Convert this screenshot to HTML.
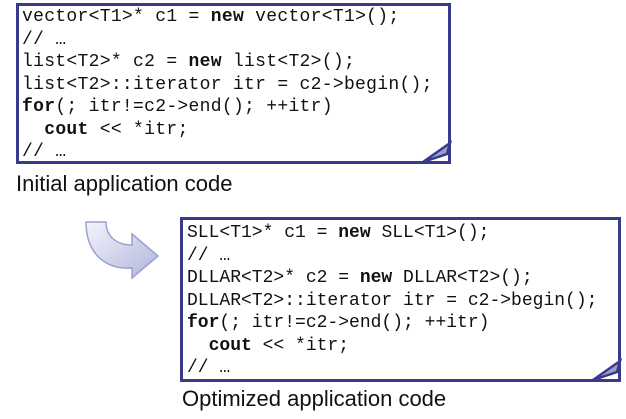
<!DOCTYPE html>
<html><head><style>
body{margin:0;width:626px;height:419px;background:#fff;position:relative;overflow:hidden}
.box{position:absolute;border:3px solid #3a3a8c;background:#fff;box-sizing:border-box}
.code{position:absolute;font-family:"Liberation Mono",monospace;font-size:18px;line-height:22.5px;white-space:pre;color:#111}
.code b{font-weight:bold}
.lbl{position:absolute;font-family:"Liberation Sans",sans-serif;font-size:22px;color:#111;white-space:nowrap}
</style></head><body>
<div class="box" style="left:16px;top:3px;width:435px;height:161px"></div>
<svg style="position:absolute;left:420px;top:136px" width="34" height="32"><polygon points="3,26 30,7 27,18" fill="#9aa0c8" stroke="#3a3a8c" stroke-width="2.5"/></svg>
<div class="code" style="left:22px;top:6px;letter-spacing:0.3px">vector&lt;T1&gt;* c1 = <b>new</b> vector&lt;T1&gt;();
// …
list&lt;T2&gt;* c2 = <b>new</b> list&lt;T2&gt;();
list&lt;T2&gt;::iterator itr = c2-&gt;begin();
<b>for</b>(; itr!=c2-&gt;end(); ++itr)
  <b>cout</b> &lt;&lt; *itr;
// …</div>
<div class="lbl" style="left:16px;top:171px">Initial application code</div>

<svg style="position:absolute;left:80px;top:218px" width="85" height="65">
<defs><linearGradient id="g" x1="0" y1="0" x2="1" y2="1"><stop offset="0" stop-color="#f4f4fb"/><stop offset="1" stop-color="#b0b4dc"/></linearGradient></defs>
<path d="M6,4 L26,4 C26,18 36,27 52,27 L52,16 L78,38 L52,60 L52,50 C24,52 6,34 6,4 Z" fill="url(#g)" stroke="#9ba0cf" stroke-width="1.5"/>
</svg>

<div class="box" style="left:180px;top:217px;width:441px;height:165px"></div>
<svg style="position:absolute;left:590px;top:354px" width="34" height="32"><polygon points="3,26 30,7 27,18" fill="#9aa0c8" stroke="#3a3a8c" stroke-width="2.5"/></svg>
<div class="code" style="left:187px;top:222px">SLL&lt;T1&gt;* c1 = <b>new</b> SLL&lt;T1&gt;();
// …
DLLAR&lt;T2&gt;* c2 = <b>new</b> DLLAR&lt;T2&gt;();
DLLAR&lt;T2&gt;::iterator itr = c2-&gt;begin();
<b>for</b>(; itr!=c2-&gt;end(); ++itr)
  <b>cout</b> &lt;&lt; *itr;
// …</div>
<div class="lbl" style="left:182px;top:386px">Optimized application code</div>
</body></html>
